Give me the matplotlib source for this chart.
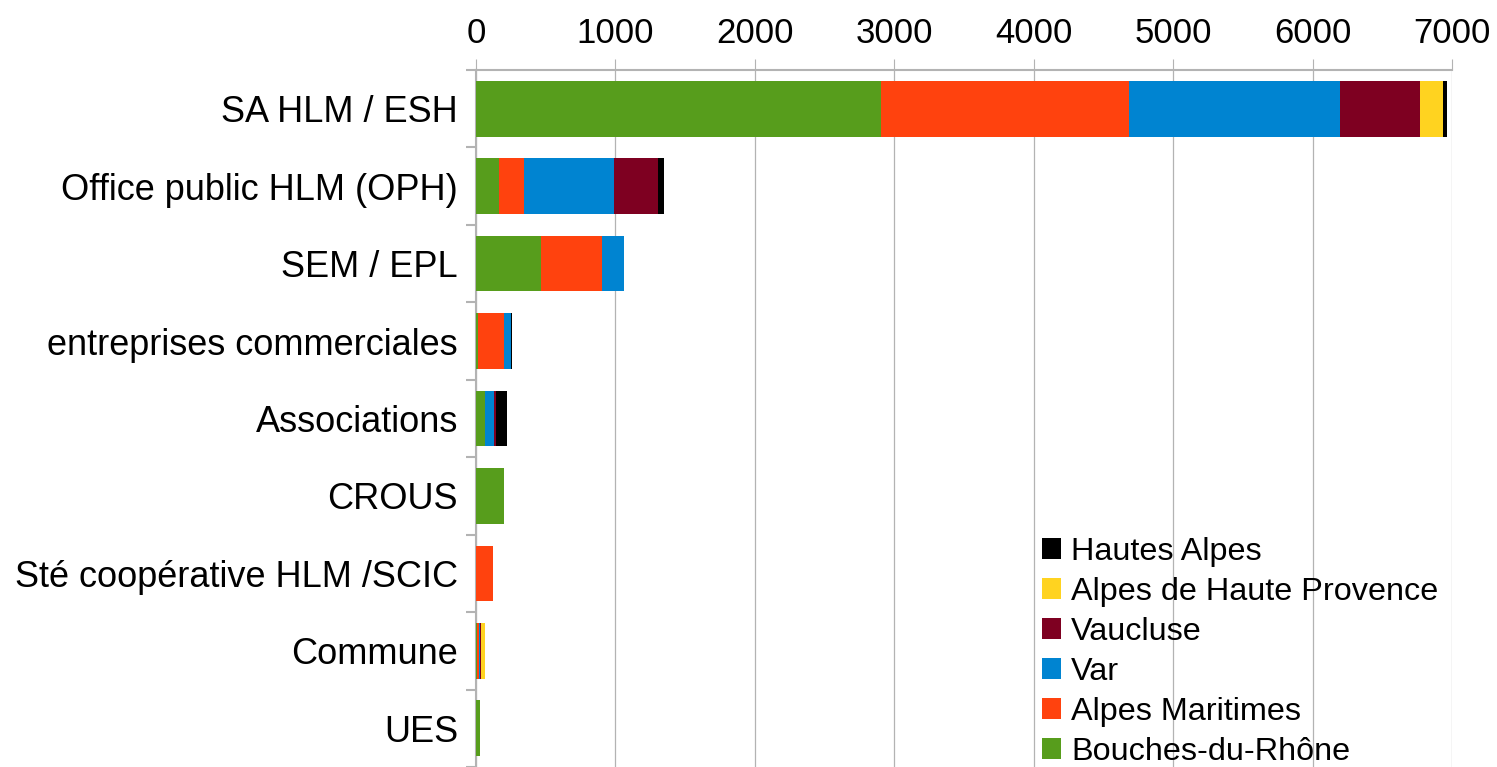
import numpy as np
import matplotlib.pyplot as plt

plt.rcParams['font.family'] = ['Liberation Sans', 'DejaVu Sans']

categories = ["SA HLM / ESH", "Office public HLM (OPH)", "SEM / EPL",
              "entreprises commerciales", "Associations", "CROUS",
              "Sté coopérative HLM /SCIC", "Commune", "UES"]

series_names = ["Bouches-du-Rhône", "Alpes Maritimes", "Var", "Vaucluse",
                "Alpes de Haute Provence", "Hautes Alpes"]

bouches   = [2905, 167, 469, 16, 65, 201, 0, 7, 30]
maritimes = [1779, 177, 435, 185, 0, 0, 122, 14, 0]
var       = [1514, 646, 158, 50, 64, 0, 0, 7, 0]
vaucluse  = [574, 316, 0, 0, 14, 0, 0, 7, 0]
ahp       = [165, 0, 0, 0, 0, 0, 0, 28, 0]
hautes    = [29, 43, 0, 7, 79, 0, 0, 0, 0]

colors = ["#579d1c", "#ff420e", "#0084d1", "#7e0021", "#ffd320", "#000000"]

series = [bouches, maritimes, var, vaucluse, ahp, hautes]

fig = plt.figure(figsize=(14.97, 7.67), dpi=100)
ax = fig.add_axes([476/1497, 0.0, (1452-476)/1497, 1 - 70/767])

y = np.arange(len(categories))
left = np.zeros(len(categories))
for vals, name, col in zip(series, series_names, colors):
    vals = np.array(vals, dtype=float)
    ax.barh(y, vals, left=left, height=0.72, color=col, label=name, zorder=3)
    left += vals

ax.set_xlim(0, 7000)
ax.set_ylim(len(categories) - 0.5, -0.5)
ax.set_xticks(np.arange(0, 7001, 1000))
ax.xaxis.tick_top()
ax.tick_params(axis='x', labelsize=25, length=8, width=0.8, color="#b3b3b3",
               pad=6.5, direction='out')
ax.set_yticks(y)
ax.set_yticklabels(categories)
ax.set_yticks(np.arange(-0.5, len(categories)), minor=True)
ax.tick_params(axis='y', which='major', labelsize=26, length=0, pad=13)
ax.tick_params(axis='y', which='minor', length=7.5, width=1.5, color="#b3b3b3")

ax.grid(axis='x', color="#b3b3b3", linewidth=0.9, zorder=0)
ax.set_axisbelow(True)
for s in ['right', 'bottom']:
    ax.spines[s].set_visible(False)
ax.spines['left'].set_color("#b3b3b3")
ax.spines['left'].set_linewidth(1.5)
ax.spines['top'].set_color("#b3b3b3")
ax.spines['top'].set_linewidth(1.5)

handles, labels = ax.get_legend_handles_labels()
ax.legend(handles[::-1], labels[::-1], loc='lower left',
          bbox_to_anchor=(1042/1497, 1 - 767/767), bbox_transform=fig.transFigure,
          frameon=False, fontsize=23.3, handlelength=0.6, handleheight=0.6,
          handletextpad=0.3, labelspacing=0.31, borderpad=0, borderaxespad=0)

fig.savefig("out.png", dpi=100)
